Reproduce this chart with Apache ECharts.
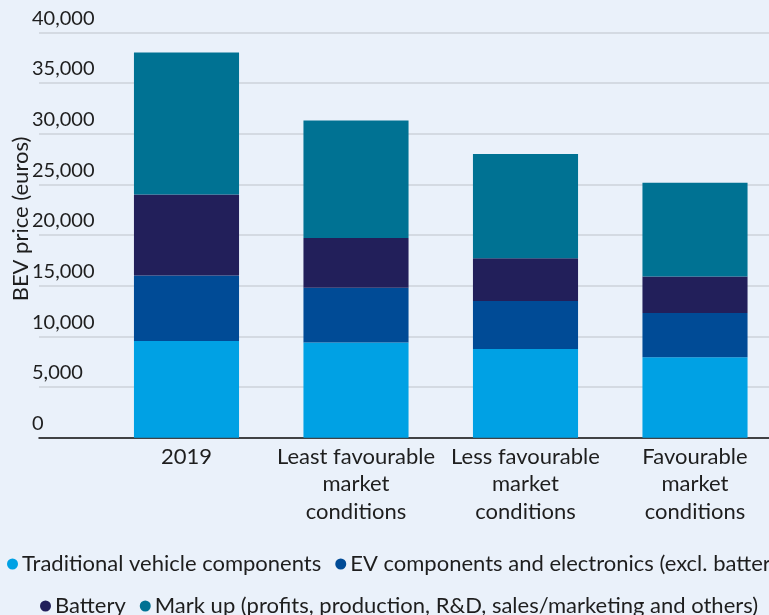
<!DOCTYPE html>
<html>
<head>
<meta charset="utf-8">
<script src="https://cdn.jsdelivr.net/npm/echarts@6/dist/echarts.min.js"></script>
<style>
html,body{margin:0;padding:0;background:#eaf1fa;}
#chart{width:769px;height:615px;}
</style>
</head>
<body>
<div id="chart"></div>
<script>
const categories = ['2019', 'Least favourable\nmarket\nconditions', 'Less favourable\nmarket\nconditions', 'Favourable\nmarket\nconditions'];
const seriesNames = ['Traditional vehicle components', 'EV components and electronics (excl. battery)', 'Battery', 'Mark up (profits, production, R&D, sales/marketing and others)'];
const traditional = [9550, 9400, 8750, 7950];
const evComponents = [6450, 5400, 4750, 4350];
const battery = [8000, 4900, 4200, 3600];
const markup = [14000, 11600, 10300, 9250];
const yMin = 0, yMax = 40000, yInterval = 5000;
const colors = ['#00a1e4', '#004b96', '#221f5a', '#007293'];

const FONT = 'Lato, "Noto Sans", sans-serif';
const TXT = '#1e1e1e';
const chart = echarts.init(document.getElementById('chart'));
const gridTop = 32.3, gridBottom = 177.3;
const values = [traditional, evComponents, battery, markup];

chart.setOption({
  backgroundColor: '#eaf1fa',
  textStyle: { fontFamily: FONT, color: TXT },
  animation: false,
  grid: [
    { left: 39, right: 0, top: gridTop, bottom: gridBottom, outerBoundsMode: 'none', containLabel: false },
    { left: 101.75, width: 678, top: gridTop, bottom: gridBottom, outerBoundsMode: 'none', containLabel: false }
  ],
  graphic: [
    { type: 'text', x: 21, y: 219, rotation: Math.PI / 2,
      style: { text: 'BEV price (euros)', fill: TXT, font: '22px ' + FONT, align: 'center', verticalAlign: 'middle' } }
  ],
  legend: [
    {
      data: seriesNames.slice(0, 2), left: 2, top: 548, width: 1000,
      icon: 'circle', itemWidth: 11, itemHeight: 11, itemGap: 14,
      textStyle: { fontFamily: FONT, fontSize: 22, color: TXT, padding: [0, 0, 0, -1] }
    },
    {
      data: seriesNames.slice(2), left: 35, top: 590, width: 1000,
      icon: 'circle', itemWidth: 11, itemHeight: 11, itemGap: 14,
      textStyle: { fontFamily: FONT, fontSize: 22, color: TXT, padding: [0, 0, 0, -1] }
    }
  ],
  xAxis: [
    { type: 'category', gridIndex: 0, data: [''], axisLine: { show: true, lineStyle: { color: '#111', width: 1.5 } },
      axisTick: { show: false }, axisLabel: { show: false }, splitLine: { show: false } },
    { type: 'category', gridIndex: 1, data: categories, axisLine: { show: false }, axisTick: { show: false },
      axisLabel: { fontFamily: FONT, fontSize: 22, color: TXT, lineHeight: 27.5, margin: 5, interval: 0 } }
  ],
  yAxis: [
    { type: 'value', gridIndex: 0, min: yMin, max: yMax, interval: yInterval,
      axisLine: { show: false }, axisTick: { show: false },
      splitLine: { show: true, lineStyle: { color: '#cdd2da', width: 1.5 } },
      axisLabel: { inside: true, margin: -7, verticalAlign: 'bottom', padding: [0, 0, 4, 0],
        fontFamily: FONT, fontSize: 20, color: TXT,
        formatter: v => v.toLocaleString('en-US') } },
    { type: 'value', gridIndex: 1, min: yMin, max: yMax, interval: yInterval, show: false, splitLine: { show: false } }
  ],
  series: seriesNames.map((name, i) => ({
    name: name, type: 'bar', stack: 'total', xAxisIndex: 1, yAxisIndex: 1,
    barWidth: '62%', data: values[i], itemStyle: { color: colors[i] }
  }))
});
</script>
</body>
</html>
